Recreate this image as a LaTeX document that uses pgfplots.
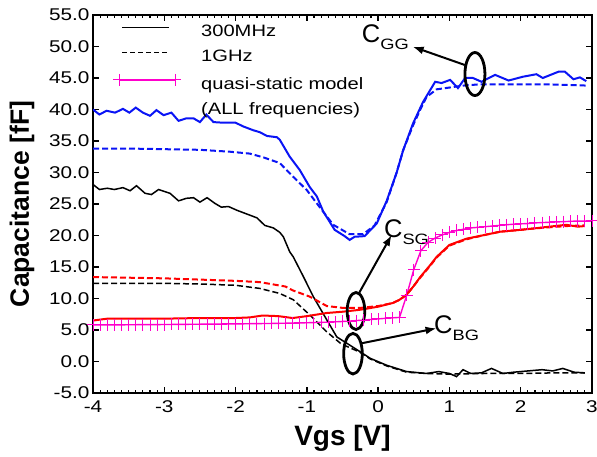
\documentclass[border=0pt]{standalone}
\usepackage{pgfplots}
\pgfplotsset{compat=1.18}
\usetikzlibrary{arrows.meta}
\usepackage{fontspec}
\setmainfont{Liberation Sans}
\newfontfamily\widefont{Liberation Sans}[FakeStretch=1.22]
\definecolor{qsmag}{RGB}{255,0,204}
\definecolor{cblue}{RGB}{10,20,245}
\definecolor{cred}{RGB}{255,0,0}
\pgfplotsset{
  linelegend/.style={legend image code/.code={\draw[##1] (0bp,5bp) -- (47bp,5bp);}},
  qslegend/.style={legend image code/.code={\draw[mark repeat=2, mark phase=1, ##1] plot coordinates {(-3bp,5bp) (25bp,5bp) (53bp,5bp)};}},
}

\pgfplotstableread{
x y
-4.00 40.0
-3.91 39.2
-3.81 39.8
-3.69 39.5
-3.58 40.1
-3.49 39.5
-3.40 40.3
-3.30 39.5
-3.20 39.0
-3.11 39.9
-3.01 39.1
-2.90 39.5
-2.80 38.2
-2.69 38.6
-2.59 38.6
-2.50 38.0
-2.41 39.2
-2.31 38.0
-2.17 37.9
-2.00 37.9
-1.89 37.3
-1.75 36.7
-1.66 36.4
-1.56 35.8
-1.42 35.6
-1.38 35.2
-1.24 32.5
-1.10 30.4
-0.96 27.7
-0.86 26.2
-0.77 23.8
-0.61 20.9
-0.47 19.9
-0.40 19.3
-0.33 19.8
-0.19 19.9
-0.02 21.9
0.12 25.5
0.26 30.0
0.35 33.5
0.49 37.8
0.63 41.2
0.80 44.4
0.89 44.2
1.01 44.7
1.12 43.4
1.22 45.0
1.33 45.0
1.45 44.4
1.64 45.5
1.83 44.6
2.03 45.2
2.22 45.6
2.31 45.0
2.53 46.0
2.62 46.0
2.74 44.8
2.83 45.1
2.92 44.5
}\cggA

\pgfplotstableread{
x y
-4.00 33.8
-3.50 33.8
-3.00 33.7
-2.50 33.6
-2.08 33.3
-1.80 33.0
-1.61 32.4
-1.38 31.5
-1.19 29.3
-1.00 27.2
-0.86 25.1
-0.63 21.7
-0.40 20.2
-0.21 20.2
-0.05 21.6
0.12 25.3
0.26 30.0
0.35 33.5
0.49 37.5
0.60 40.2
0.68 42.0
0.82 43.2
1.01 43.5
1.20 43.8
1.43 44.0
1.90 44.0
2.36 44.0
2.92 43.8
}\cggB

\pgfplotstableread{
x y
-4.00 28.1
-3.91 27.3
-3.80 27.5
-3.70 27.3
-3.58 27.6
-3.48 27.1
-3.39 27.9
-3.27 26.7
-3.18 26.5
-3.08 27.3
-2.92 26.7
-2.80 25.5
-2.69 25.9
-2.59 26.0
-2.50 25.3
-2.40 26.0
-2.29 25.1
-2.20 24.5
-2.10 24.6
-1.98 24.0
-1.84 23.4
-1.70 22.8
-1.59 21.6
-1.47 21.2
-1.38 20.5
-1.33 19.8
-1.24 17.4
-1.19 16.6
-1.05 13.5
-0.91 10.3
-0.72 6.6
-0.58 3.9
-0.44 2.9
-0.26 1.6
-0.11 0.5
0.12 -0.6
0.40 -1.6
0.68 -1.9
0.85 -1.6
1.00 -1.9
1.10 -2.4
1.19 -1.3
1.30 -1.9
1.45 -1.8
1.59 -1.1
1.75 -1.9
1.90 -1.7
2.10 -1.5
2.30 -1.3
2.45 -1.5
2.59 -1.1
2.75 -1.7
2.90 -1.8
}\cbgA

\pgfplotstableread{
x y
-4.00 12.4
-3.00 12.4
-2.50 12.3
-2.00 12.1
-1.66 11.6
-1.38 10.8
-1.19 9.8
-0.96 7.4
-0.72 4.7
-0.53 2.9
-0.44 2.4
-0.26 1.5
-0.11 0.4
0.12 -0.7
0.40 -1.7
0.68 -1.9
1.00 -2.0
1.50 -1.9
2.00 -1.9
2.50 -1.8
2.90 -1.8
}\cbgB

\pgfplotstableread{
x y
-4.00 6.5
-3.80 6.8
-3.50 6.8
-3.00 6.8
-2.50 6.9
-2.00 6.9
-1.80 7.0
-1.62 7.3
-1.40 7.2
-1.20 6.9
-1.00 7.2
-0.72 7.7
-0.50 7.9
-0.26 8.2
0.00 8.7
0.21 9.3
0.30 9.8
0.40 10.6
0.50 12.0
0.59 13.4
0.73 15.3
0.82 16.6
1.00 18.5
1.24 19.5
1.50 20.1
1.71 20.6
2.00 20.9
2.17 21.1
2.40 21.4
2.64 21.7
2.80 21.4
2.90 21.5
}\csgA

\pgfplotstableread{
x y
-4.00 13.4
-3.00 13.2
-2.50 13.0
-2.00 12.8
-1.66 12.6
-1.30 11.9
-1.20 11.3
-0.96 10.3
-0.72 8.8
-0.49 8.5
-0.26 8.5
0.00 8.8
0.21 9.3
0.30 9.8
0.40 10.6
0.50 12.0
0.59 13.3
0.73 15.2
0.82 16.5
1.00 18.4
1.24 19.4
1.50 20.1
1.71 20.6
2.00 20.9
2.17 21.1
2.40 21.3
2.64 21.5
2.90 21.6
}\csgB

\pgfplotstableread{
x y
-4.0 5.80
-3.9 5.80
-3.8 5.81
-3.7 5.82
-3.6 5.82
-3.5 5.83
-3.4 5.84
-3.3 5.85
-3.2 5.86
-3.1 5.86
-3.0 5.87
-2.9 5.88
-2.8 5.89
-2.7 5.90
-2.6 5.91
-2.5 5.92
-2.4 5.93
-2.3 5.94
-2.2 5.95
-2.1 5.96
-2.0 5.97
-1.9 5.98
-1.8 6.00
-1.7 6.01
-1.6 6.03
-1.5 6.04
-1.4 6.06
-1.3 6.08
-1.2 6.10
-1.1 6.12
-1.0 6.15
-0.9 6.18
-0.8 6.21
-0.7 6.25
-0.6 6.30
-0.5 6.35
-0.4 6.42
-0.3 6.50
-0.2 6.58
-0.1 6.67
0.0 6.76
0.1 6.85
0.2 6.93
0.3 7.00
0.4 10.5
0.5 14.6
0.6 17.6
0.7 18.9
0.8 19.6
0.9 20.1
1.0 20.5
1.1 20.8
1.2 21.0
1.3 21.2
1.4 21.3
1.5 21.4
1.6 21.5
1.7 21.6
1.8 21.7
1.9 21.8
2.0 21.85
2.1 21.9
2.2 22.0
2.3 22.05
2.4 22.1
2.5 22.15
2.6 22.2
2.7 22.25
2.8 22.3
2.9 22.3
3.0 22.35
}\qsm

\begin{document}
\begin{tikzpicture}
\path[use as bounding box] (0,0) rectangle (597bp,457bp);
\begin{axis}[
  at={(93bp,64bp)}, anchor=south west,
  scale only axis, width=499bp, height=378bp,
  xmin=-4, xmax=3, ymin=-5, ymax=55,
  xtick={-4,-3,-2,-1,0,1,2,3}, minor x tick num=9,
  ytick={-5,0,5,10,15,20,25,30,35,40,45,50,55},
  tick align=inside,
  major tick length=6bp, minor tick length=3bp,
  axis line style={line width=1.8bp},
  every tick/.style={line width=1.3bp, black},
  every minor tick/.style={line width=1.1bp, black},
  xticklabel={\pgfmathprintnumber[assume math mode=true]{\tick}},
  yticklabel={\pgfmathprintnumber[assume math mode=true,fixed,fixed zerofill,precision=1]{\tick}},
  ticklabel style={font=\widefont\fontsize{17bp}{20bp}\selectfont},
  xticklabel style={yshift=-4bp},
  xlabel={Vgs [V]}, ylabel={Capacitance [fF]},
  xlabel style={font=\bfseries\fontsize{28bp}{30bp}\selectfont, at={(axis description cs:0.5,-0.119)}, anchor=center},
  ylabel style={font=\bfseries\fontsize{26.5bp}{30bp}\selectfont, at={(axis description cs:-0.142,0.5)}, anchor=center},
  legend style={draw=none, fill=none, at={(axis description cs:0.040,0.977)}, anchor=north west,
    font=\widefont\fontsize{16.5bp}{18bp}\selectfont, inner sep=0pt, row sep=8bp,
    nodes={inner sep=0pt, text height=13bp, text depth=4bp},
    /tikz/every odd column/.append style={column sep=20bp}},
  legend cell align=left,
  linelegend,
]
\addplot[qsmag, line width=1.4bp, mark=+, mark size=6bp, mark options={line width=1bp}, forget plot] table {\qsm};
\addplot[cblue, line width=2bp, forget plot] table {\cggA};
\addplot[cblue, line width=2bp, dash pattern=on 6bp off 3bp, forget plot] table {\cggB};
\addplot[black, line width=1.5bp, forget plot] table {\cbgA};
\addplot[black, line width=1.5bp, dash pattern=on 6bp off 3bp, forget plot] table {\cbgB};
\addplot[cred, line width=2bp, dash pattern=on 6bp off 3bp, forget plot] table {\csgB};
\addplot[cred, line width=2bp, forget plot] table {\csgA};

\addlegendimage{black, line width=1.4bp}
\addlegendentry{300MHz}
\addlegendimage{black, line width=1.4bp, dash pattern=on 5bp off 3bp}
\addlegendentry{1GHz}
\addlegendimage{qsmag, line width=1.4bp, mark=+, mark size=6bp, mark options={line width=1bp}, qslegend}
\addlegendentry{quasi-static model}
\addlegendimage{empty legend}
\addlegendentry{(ALL frequencies)}

% annotations
\draw[line width=2.8bp] (axis cs:1.358,45.63) ellipse [x radius=10bp, y radius=21.5bp];
\draw[line width=2bp, -{Latex[length=11bp,width=8bp]}] (axis cs:1.217,47.06) -- (axis cs:0.484,49.97);
\node[anchor=base west, inner sep=0pt, font=\fontsize{25.5bp}{26bp}\selectfont] at (axis cs:-0.23,50.7)
  {C\raisebox{-7bp}{\widefont\fontsize{15bp}{15bp}\selectfont GG}};

\draw[line width=2.8bp] (axis cs:-0.311,8.02) ellipse [x radius=8.8bp, y radius=18.5bp];
\draw[line width=2bp, -{Latex[length=11bp,width=8bp]}] (axis cs:-0.265,10.92) -- (axis cs:0.189,20.08);
\node[anchor=base west, inner sep=0pt, font=\fontsize{25.5bp}{26bp}\selectfont] at (axis cs:0.081,19.76)
  {C\raisebox{-7bp}{\widefont\fontsize{15bp}{15bp}\selectfont SG}};

\draw[line width=2.8bp] (axis cs:-0.353,1.24) ellipse [x radius=9.3bp, y radius=20.3bp];
\draw[line width=2bp, -{Latex[length=11bp,width=8bp]}] (axis cs:-0.233,2.89) -- (axis cs:0.819,5.27);
\node[anchor=base west, inner sep=0pt, font=\fontsize{25.5bp}{26bp}\selectfont] at (axis cs:0.783,4.52)
  {C\raisebox{-7bp}{\widefont\fontsize{15bp}{15bp}\selectfont BG}};
\end{axis}
\end{tikzpicture}
\end{document}
